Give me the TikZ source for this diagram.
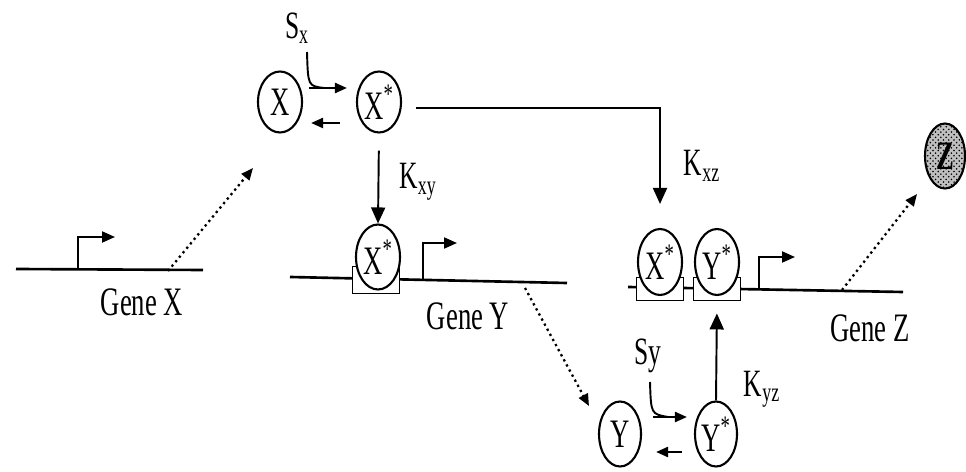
\documentclass[tikz,border=0pt]{standalone}
\usepackage{fontspec}
\setmainfont{Liberation Serif}[FakeStretch=0.66]
\usetikzlibrary{arrows.meta,positioning,shapes.geometric,patterns}

\tikzset{
  prot/.style={ellipse, draw, line width=1.2pt, fill=white, inner sep=0pt,
               minimum width=0.88cm, minimum height=1.22cm, font=\fontsize{23}{24}\selectfont},
  site/.style={rectangle, draw, line width=1.1pt, fill=white, inner sep=0pt,
               minimum width=0.94cm, minimum height=0.5cm},
  dna/.style={line width=1.5pt},
  prom/.style={line width=1.1pt, -{Triangle[length=0.26cm,width=0.22cm]}},
  act/.style={line width=1.1pt, -{Triangle[length=0.32cm,width=0.28cm]}},
  conv/.style={line width=1.3pt, -{Triangle[length=0.24cm,width=0.2cm]}},
  expr/.style={dotted, line width=1.3pt, -{Triangle[length=0.24cm,width=0.2cm]}},
  lbl/.style={font=\fontsize{22}{24}\selectfont},
  genelbl/.style={font=\fontsize{23}{24}\selectfont}
}

\begin{document}
\begin{tikzpicture}[x=0.02cm, y=-0.02cm]
  \useasboundingbox (0,0) rectangle (966,472);

  % gene X
  \coordinate (gxa) at (16,269);
  \coordinate (gxb) at (203,270);
  \draw[dna] (gxa) -- (gxb);
  \coordinate (pxa) at (78,269);
  \coordinate (pxb) at (115,237);
  \draw[prom] (pxa) |- (pxb);
  \node[genelbl] (gx) at (142,302) {Gene X};
  \coordinate (dxa) at (168,271);
  \coordinate (dxb) at (253,168);
  \draw[expr] (dxa) -- (dxb);

  % X <-> X*
  \node[prot] (x) at (280,102) {X};
  \node[prot] (xs) at (379,102) {X\textsuperscript{*}};
  \node[lbl] (sx) at (297,28) {S\textsubscript{x}};
  \coordinate (sxa) at (307,52);
  \coordinate (sxj) at (324,88);
  \draw[line width=1.1pt] (sxa) .. controls (308,86) .. (sxj);
  \draw[conv, shorten <=0.12cm, shorten >=0.18cm] ([yshift=0.28cm]x.east) -- ([yshift=0.28cm]xs.west);
  \draw[conv, shorten <=0.32cm, shorten >=0.16cm] ([yshift=-0.42cm]xs.west) -- ([yshift=-0.42cm]x.east);

  % gene Y
  \coordinate (gya) at (290,277);
  \coordinate (gyb) at (567,283);
  \draw[dna] (gya) -- (gyb);
  \node[site, minimum height=0.54cm] (bxy) at (376,280) {};
  \node[prot, minimum height=1.3cm] (xy) at (378,257) {X\textsuperscript{*}};
  \coordinate (pya) at (423,279);
  \coordinate (pyb) at (457,243);
  \draw[prom] (pya) |- (pyb);
  \node[genelbl] (gy) at (468,316) {Gene Y};
  \coordinate (dya) at (525,288);
  \coordinate (dyb) at (589,406);
  \draw[expr] (dya) -- (dyb);
  \draw[act, shorten <=0.34cm] (xs.south) -- (xy.north);
  \node[lbl] (kxy) at (418,182) {K\textsubscript{xy}};

  % gene Z
  \coordinate (gza) at (628,287);
  \coordinate (gzb) at (903,292);
  \draw[dna] (gza) -- (gzb);
  \node[site, minimum height=0.46cm] (bxz) at (660,289) {};
  \node[site, minimum height=0.46cm] (byz) at (717,289) {};
  \node[prot, minimum height=1.32cm] (xz) at (660,262) {X\textsuperscript{*}};
  \node[prot, minimum height=1.32cm] (yz) at (717,262) {Y\textsuperscript{*}};
  \coordinate (pza) at (759,288);
  \coordinate (pzb) at (795,257);
  \draw[prom] (pza) |- (pzb);
  \node[genelbl] (gz) at (870,328) {Gene Z};
  \coordinate (dza) at (842,290);
  \coordinate (dzb) at (917,194);
  \draw[expr] (dza) -- (dzb);
  \node[prot, minimum width=0.8cm, minimum height=1.3cm, fill=black!25,
        postaction={pattern=crosshatch dots}, font=\fontsize{23}{24}\selectfont\bfseries]
        (z) at (945,156) {Z};
  \draw[act, shorten <=0.28cm, shorten >=0.48cm] ([yshift=-0.12cm]xs.east) -| (xz.north);
  \node[lbl] (kxz) at (702,166) {K\textsubscript{xz}};

  % Y <-> Y*
  \node[prot, minimum width=0.84cm, minimum height=1.3cm] (y) at (620,434) {Y};
  \node[prot, minimum width=0.84cm, minimum height=1.3cm] (ys) at (716,434) {Y\textsuperscript{*}};
  \node[lbl] (sy) at (648,356) {Sy};
  \coordinate (sya) at (650,382);
  \coordinate (syj) at (668,417);
  \draw[line width=1.1pt] (sya) .. controls (651,414) .. (syj);
  \draw[conv, shorten <=0.22cm, shorten >=0.14cm] ([yshift=0.34cm]y.east) -- ([yshift=0.34cm]ys.west);
  \draw[conv, shorten <=0.24cm, shorten >=0.28cm] ([yshift=-0.36cm]ys.west) -- ([yshift=-0.36cm]y.east);
  \draw[act, shorten >=0.24cm] (ys.north) -- (byz.south);
  \node[lbl] (kyz) at (762,389) {K\textsubscript{yz}};
\end{tikzpicture}
\end{document}
